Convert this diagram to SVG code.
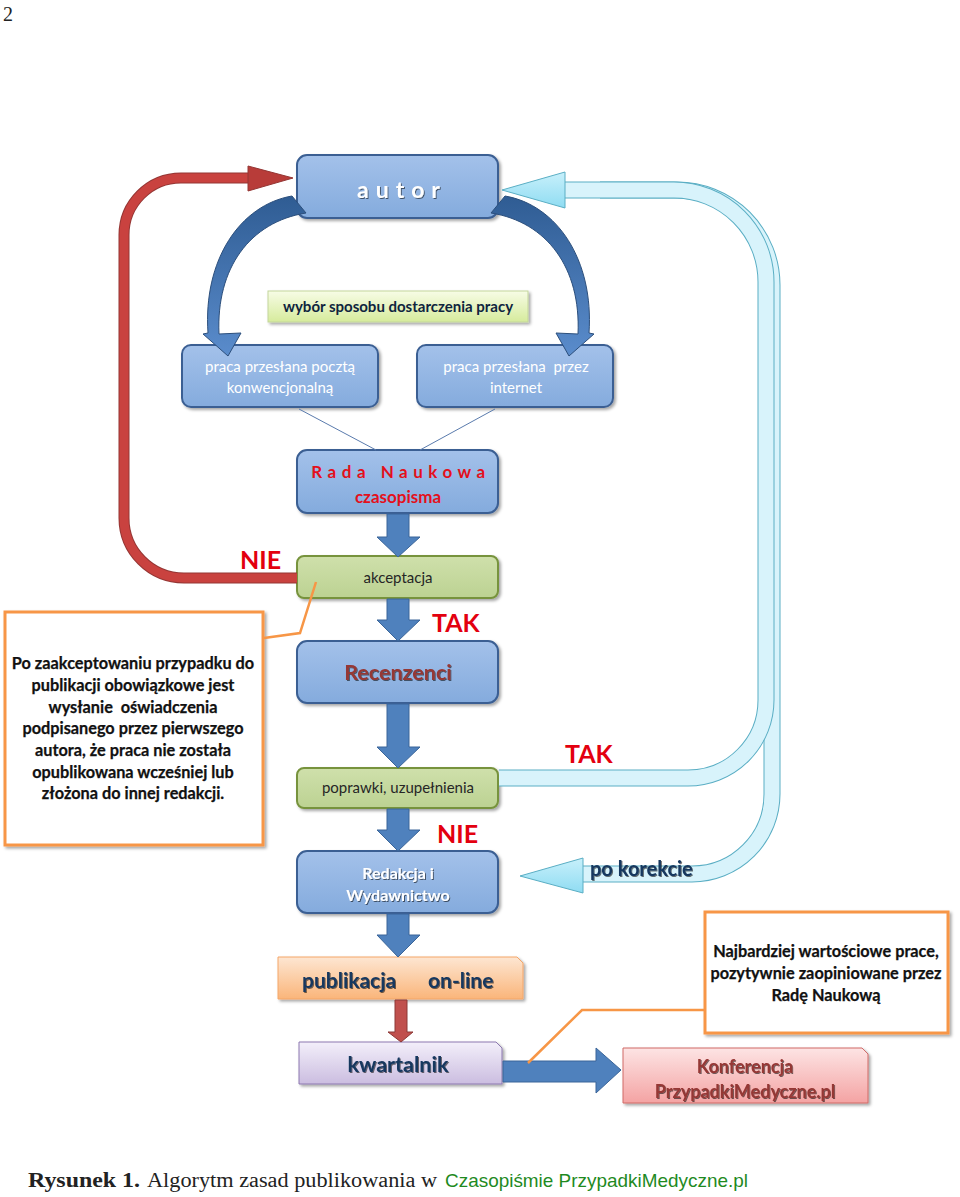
<svg xmlns="http://www.w3.org/2000/svg" width="960" height="1197" viewBox="0 0 960 1197">
<defs>
  <linearGradient id="gBlue" x1="0" y1="0" x2="0" y2="1"><stop offset="0" stop-color="#a3c1ea"/><stop offset="1" stop-color="#84abdd"/></linearGradient>
  <linearGradient id="gGreen" x1="0" y1="0" x2="0" y2="1"><stop offset="0" stop-color="#cfe0ab"/><stop offset="1" stop-color="#bcd292"/></linearGradient>
  <linearGradient id="gLime" x1="0" y1="0" x2="0" y2="1"><stop offset="0" stop-color="#f7fce6"/><stop offset="1" stop-color="#d6eb9c"/></linearGradient>
  <linearGradient id="gOrange" x1="0" y1="0" x2="0" y2="1"><stop offset="0" stop-color="#fde6d2"/><stop offset="1" stop-color="#fab57a"/></linearGradient>
  <linearGradient id="gLav" x1="0" y1="0" x2="0" y2="1"><stop offset="0" stop-color="#f3effa"/><stop offset="1" stop-color="#cbbde0"/></linearGradient>
  <linearGradient id="gPink" x1="0" y1="0" x2="0" y2="1"><stop offset="0" stop-color="#fde4e4"/><stop offset="1" stop-color="#f4a3a3"/></linearGradient>
  <linearGradient id="gCyanHead" x1="0" y1="0" x2="0" y2="1"><stop offset="0" stop-color="#c8f0fb"/><stop offset="1" stop-color="#8fdcf2"/></linearGradient>
  <linearGradient id="gArcBlue" x1="0" y1="0" x2="0" y2="1"><stop offset="0" stop-color="#2f5c93"/><stop offset="1" stop-color="#5a8ccc"/></linearGradient>
  <filter id="sh" x="-10%" y="-10%" width="130%" height="140%"><feDropShadow dx="2" dy="2" stdDeviation="1.6" flood-color="#000" flood-opacity="0.35"/></filter>
  <filter id="tsh" x="-10%" y="-20%" width="130%" height="150%"><feDropShadow dx="1" dy="1" stdDeviation="0.7" flood-color="#000" flood-opacity="0.55"/></filter>
  <style>
    .box { fill: url(#gBlue); stroke: #3b5f93; stroke-width: 2; }
    .gbox { fill: url(#gGreen); stroke: #77933c; stroke-width: 2; }
    .call { fill: #ffffff; stroke: #f79646; stroke-width: 3; }
    .lead { fill: none; stroke: #f79646; stroke-width: 2.5; }
    .barr { fill: #4f81bd; stroke: #3a6599; stroke-width: 1; }
    .cal { font-family: Lato, "Open Sans", "Liberation Sans", sans-serif; }
    .w { fill: #ffffff; }
    .lbl { font-family: Lato, "Open Sans", "Liberation Sans", sans-serif; font-weight: bold; fill: #e3000f; font-size: 25px; }
    .cyo { fill: none; stroke: #5aaec4; stroke-width: 17; }
    .cyi { fill: none; stroke: #d8f3fb; stroke-width: 15; }
    .ctext { font-family: Lato, "Open Sans", "Liberation Sans", sans-serif; font-weight: bold; font-size: 16.3px; fill: #111; text-anchor: middle; stroke: #111; stroke-width: 0.25; }
  </style>
</defs>
<rect width="960" height="1197" fill="#ffffff"/>
<text x="3" y="21" font-family="Liberation Serif, serif" font-size="20" fill="#222">2</text>

<g id="autor">
  <rect class="box" x="297" y="155" width="201" height="63" rx="10" filter="url(#sh)"/>
  <text x="402" y="198" class="cal w" font-size="23" font-weight="bold" text-anchor="middle" letter-spacing="7" filter="url(#tsh)">autor</text>
</g>
<g id="wybor">
  <rect x="268" y="291" width="260" height="31" fill="url(#gLime)" stroke="#c3d69b" stroke-width="1" filter="url(#sh)"/>
  <text x="398" y="311.5" class="cal" font-size="15" font-weight="bold" fill="#0f243e" text-anchor="middle">wybór sposobu dostarczenia pracy</text>
</g>
<g id="poczta">
  <rect class="box" x="182" y="345" width="196" height="62" rx="9" filter="url(#sh)"/>
  <text x="280" y="372" class="cal w" font-size="15" text-anchor="middle">praca przesłana pocztą</text>
  <text x="280" y="393" class="cal w" font-size="15" text-anchor="middle">konwencjonalną</text>
</g>
<g id="internet">
  <rect class="box" x="417" y="345" width="196" height="62" rx="9" filter="url(#sh)"/>
  <text x="516" y="372" class="cal w" font-size="15" text-anchor="middle" xml:space="preserve">praca przesłana  przez</text>
  <text x="516" y="393" class="cal w" font-size="15" text-anchor="middle">internet</text>
</g>
<g id="rada">
  <rect class="box" x="297" y="450" width="201" height="63" rx="10" filter="url(#sh)"/>
  <text x="401" y="478" class="cal" font-size="17" font-weight="bold" fill="#e3101c" text-anchor="middle" letter-spacing="5.5">Rada Naukowa</text>
  <text x="398" y="503" class="cal" font-size="17" font-weight="bold" fill="#e3101c" text-anchor="middle">czasopisma</text>
</g>
<g id="akceptacja">
  <rect class="gbox" x="297" y="556" width="201" height="42" rx="7" filter="url(#sh)"/>
  <text x="398" y="583" class="cal" font-size="15" fill="#262626" text-anchor="middle">akceptacja</text>
</g>
<g id="callout1">
  <rect class="call" x="5" y="612" width="258" height="233" filter="url(#sh)"/>
  <text class="ctext" x="133" y="669">Po zaakceptowaniu przypadku do</text>
  <text class="ctext" x="133" y="691">publikacji obowiązkowe jest</text>
  <text class="ctext" x="133" y="713" xml:space="preserve">wysłanie  oświadczenia</text>
  <text class="ctext" x="133" y="734">podpisanego przez pierwszego</text>
  <text class="ctext" x="133" y="756">autora, że praca nie została</text>
  <text class="ctext" x="133" y="778">opublikowana wcześniej lub</text>
  <text class="ctext" x="133" y="799">złożona do innej redakcji.</text>
</g>
<g id="recenzenci">
  <rect class="box" x="297" y="641" width="201" height="62" rx="10" filter="url(#sh)"/>
  <text x="398" y="680" class="cal" font-size="21.5" font-weight="bold" fill="#953735" text-anchor="middle" filter="url(#tsh)">Recenzenci</text>
</g>
<g id="poprawki">
  <rect class="gbox" x="297" y="768" width="201" height="40" rx="7" filter="url(#sh)"/>
  <text x="398" y="793" class="cal" font-size="15" fill="#262626" text-anchor="middle">poprawki, uzupełnienia</text>
</g>
<g id="redakcja">
  <rect class="box" x="297" y="851" width="201" height="62" rx="10" filter="url(#sh)"/>
  <text x="398" y="879" class="cal w" font-size="16" font-weight="bold" text-anchor="middle" filter="url(#tsh)">Redakcja i</text>
  <text x="398" y="901" class="cal w" font-size="16" font-weight="bold" text-anchor="middle" filter="url(#tsh)">Wydawnictwo</text>
</g>
<g id="publikacja">
  <path d="M 278 957 H 517 L 523 963 V 999 H 278 Z" fill="url(#gOrange)" stroke="#f5a669" stroke-width="1" filter="url(#sh)"/>
  <text x="302" y="988" class="cal" font-size="21" font-weight="bold" fill="#17375e" filter="url(#tsh)">publikacja</text>
  <text x="428" y="988" class="cal" font-size="21" font-weight="bold" fill="#17375e" filter="url(#tsh)">on-line</text>
</g>
<g id="callout2">
  <rect class="call" x="705" y="912" width="243" height="121" filter="url(#sh)"/>
  <text class="ctext" x="826" y="957">Najbardziej wartościowe prace,</text>
  <text class="ctext" x="826" y="979">pozytywnie zaopiniowane przez</text>
  <text class="ctext" x="826" y="1001">Radę Naukową</text>
</g>
<g id="kwartalnik">
  <path d="M 299 1042 H 496 L 502 1048 V 1084 H 299 Z" fill="url(#gLav)" stroke="#8c78b0" stroke-width="1" filter="url(#sh)"/>
  <text x="398" y="1072" class="cal" font-size="21.5" font-weight="bold" fill="#17375e" text-anchor="middle" filter="url(#tsh)">kwartalnik</text>
</g>
<g id="konferencja">
  <path d="M 623 1048 H 862 L 868 1054 V 1103 H 623 Z" fill="url(#gPink)" stroke="#d06a67" stroke-width="1" filter="url(#sh)"/>
  <text x="745" y="1073" class="cal" font-size="18" font-weight="bold" fill="#953735" text-anchor="middle" filter="url(#tsh)">Konferencja</text>
  <text x="745" y="1098" class="cal" font-size="18" font-weight="bold" fill="#953735" text-anchor="middle" filter="url(#tsh)">PrzypadkiMedyczne.pl</text>
</g>

<g id="connectors">
  <!-- red NIE loop -->
  <path d="M 297 578 H 184 A 60 60 0 0 1 124 518 V 235 A 57 57 0 0 1 181 178 H 250" fill="none" stroke="#943634" stroke-width="11"/>
  <path d="M 297 578 H 184 A 60 60 0 0 1 124 518 V 235 A 57 57 0 0 1 181 178 H 250" fill="none" stroke="#c9423f" stroke-width="9"/>
  <polygon points="248,166 293,178 248,191" fill="#b83c39" stroke="#943634" stroke-width="1"/>
  <!-- cyan po korekcie loop -->
  <path class="cyo" d="M 600 190 H 677 A 95 95 0 0 1 772 285 V 794 A 80 80 0 0 1 692 874 H 580"/>
  <path class="cyi" d="M 600 190 H 677 A 95 95 0 0 1 772 285 V 794 A 80 80 0 0 1 692 874 H 580"/>
  <!-- cyan TAK loop -->
  <path class="cyo" d="M 499 778 H 688 A 78 78 0 0 0 766 700 V 282 A 92 92 0 0 0 674 190 H 560"/>
  <path class="cyi" d="M 499 778 H 688 A 78 78 0 0 0 766 700 V 282 A 92 92 0 0 0 674 190 H 560"/>
  <polygon points="502,190 565,172 565,208" fill="url(#gCyanHead)" stroke="#5aaec4" stroke-width="1"/>
  <polygon points="520,876 583,858 583,893" fill="url(#gCyanHead)" stroke="#5aaec4" stroke-width="1"/>
  <!-- curved choice arrows -->
  <path d="M 292 196 C 240 205, 203 260, 208 333 L 203 334 L 228 356 L 241 333 L 219 334 C 216 268, 250 222, 306 213 Z" fill="url(#gArcBlue)" stroke="#2c4f7c" stroke-width="1"/>
  <path d="M 505 196 C 557 205, 594 260, 589 333 L 594 334 L 569 356 L 556 333 L 578 334 C 581 268, 547 222, 491 213 Z" fill="url(#gArcBlue)" stroke="#2c4f7c" stroke-width="1"/>
  <!-- thin lines to Rada -->
  <line x1="299" y1="409" x2="376" y2="450" stroke="#5a7bad" stroke-width="1"/>
  <line x1="495" y1="409" x2="420" y2="450" stroke="#5a7bad" stroke-width="1"/>
  <!-- vertical block arrows -->
  <polygon class="barr" points="387,514 409,514 409,537 420,537 398,557 377,537 387,537"/>
  <polygon class="barr" points="387,599 409,599 409,620 420,620 398,641 377,620 387,620"/>
  <polygon class="barr" points="387,704 409,704 409,747 420,747 398,768 377,747 387,747"/>
  <polygon class="barr" points="387,809 409,809 409,830 420,830 398,851 377,830 387,830"/>
  <polygon class="barr" points="387,914 409,914 409,935 420,935 398,957 377,935 387,935"/>
  <polygon points="395,1000 407,1000 407,1032 413,1032 401,1042 388,1032 395,1032" fill="#c0504d" stroke="#8c3836" stroke-width="1"/>
  <polygon class="barr" points="503,1061 596,1061 596,1048 621,1070 596,1093 596,1082 503,1082"/>
  <!-- callout leaders -->
  <polyline class="lead" points="264,638 300,633 316,582"/>
  <polyline class="lead" points="705,1010 582,1010 528,1063"/>
</g>

<g id="labels">
  <text x="240" y="569" class="lbl">NIE</text>
  <text x="432" y="632" class="lbl" font-size="24">TAK</text>
  <text x="565" y="763" class="lbl" font-size="24">TAK</text>
  <text x="437" y="843" class="lbl" font-size="24">NIE</text>
  <text x="590" y="876" class="cal" font-size="20" font-weight="bold" fill="#17375e" filter="url(#tsh)">po korekcie</text>
</g>
<g id="caption">
  <text x="28" y="1187" font-family="Liberation Serif, serif" font-size="20" font-weight="bold" fill="#222" textLength="112" lengthAdjust="spacingAndGlyphs">Rysunek 1.</text>
  <text x="147" y="1187" font-family="Liberation Serif, serif" font-size="20" fill="#222" textLength="290" lengthAdjust="spacingAndGlyphs">Algorytm zasad publikowania w</text>
  <text x="445" y="1187" font-family="Liberation Sans, sans-serif" font-size="19" fill="#1f8a1f" textLength="303" lengthAdjust="spacingAndGlyphs">Czasopiśmie PrzypadkiMedyczne.pl</text>
</g>
</svg>
